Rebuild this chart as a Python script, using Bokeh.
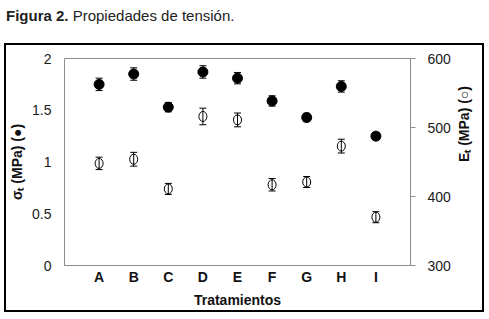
from bokeh.plotting import figure
from bokeh.models import (ColumnDataSource, Range1d, LinearAxis, FactorRange, Whisker,
                          FixedTicker, TeeHead, Div, Column)
from bokeh.embed import file_html
from bokeh.resources import INLINE
import math

treatments = ["A", "B", "C", "D", "E", "F", "G", "H", "I"]
sigma = [1.75, 1.85, 1.53, 1.87, 1.81, 1.59, 1.43, 1.73, 1.25]
sigma_err = [0.06, 0.06, 0.045, 0.06, 0.055, 0.05, 0.04, 0.055, 0.035]
modulus = [448, 454, 411, 516, 511, 417, 421, 473, 370]
modulus_err = [9, 10, 8, 12, 10, 9, 8, 10, 8]
left_ticks = [0, 0.5, 1, 1.5, 2]
right_ticks = [300, 400, 500, 600]

src = ColumnDataSource(dict(
    x=treatments, s=sigma,
    su=[v + e for v, e in zip(sigma, sigma_err)],
    sl=[v - e for v, e in zip(sigma, sigma_err)],
    e=modulus,
    eu=[v + e for v, e in zip(modulus, modulus_err)],
    el=[v - e for v, e in zip(modulus, modulus_err)],
))

FONT = "Liberation Sans"
GRAY = "#8c8c8c"
TXT = "#111111"

# figure placed inside a 2px black box: content starts at page (6, 45)
W, H = 476, 265
OX, OY = 6, 45
FL, FT, FR, FB = 63, 58, 412, 267   # frame edges on the page

p = figure(width=W, height=H,
           x_range=FactorRange(factors=treatments, range_padding=0.5, range_padding_units="absolute"),
           y_range=Range1d(0, 2), output_backend="svg", toolbar_location=None,
           min_border_left=FL - OX, min_border_top=FT - OY,
           min_border_right=W - (FR - OX), min_border_bottom=H - (FB - OY))
p.extra_y_ranges = {"E": Range1d(300, 600)}
p.xgrid.visible = False
p.ygrid.visible = False
p.outline_line_color = GRAY
p.outline_line_width = 1

# left axis
ya = p.yaxis[0]
ya.ticker = FixedTicker(ticks=left_ticks)
ya.major_label_overrides = {0: "0", 0.5: "0.5", 1: "1", 1.5: "1.5", 2: "2"}
ya.major_tick_line_color = None
ya.major_tick_out = 0
ya.major_tick_in = 0
ya.minor_tick_line_color = None
ya.axis_line_color = None
ya.major_label_text_font = FONT
ya.major_label_text_font_size = "14px"
ya.major_label_text_color = "#1a1a1a"
ya.major_label_standoff = 13
ya.axis_label = "σₜ (MPa) (●)"
ya.axis_label_text_font = FONT
ya.axis_label_text_font_size = "14px"
ya.axis_label_text_font_style = "bold"
ya.axis_label_text_color = TXT
ya.axis_label_standoff = 4

# right axis
ra = LinearAxis(y_range_name="E", ticker=FixedTicker(ticks=right_ticks))
ra.major_tick_in = 0
ra.major_tick_out = 5
ra.major_tick_line_color = GRAY
ra.minor_tick_line_color = None
ra.axis_line_color = GRAY
ra.major_label_text_font = FONT
ra.major_label_text_font_size = "14px"
ra.major_label_text_color = "#1a1a1a"
ra.major_label_standoff = 12
ra.axis_label = "Eₜ (MPa) (○)"
ra.axis_label_text_font = FONT
ra.axis_label_text_font_size = "14px"
ra.axis_label_text_font_style = "bold"
ra.axis_label_text_color = TXT
ra.axis_label_standoff = 10
if "axis_label_orientation" in ra.properties():
    ra.axis_label_orientation = math.pi / 2
p.add_layout(ra, "right")

# x axis
xa = p.xaxis[0]
xa.major_tick_line_color = None
xa.major_tick_out = 0
xa.major_tick_in = 0
xa.axis_line_color = GRAY
xa.major_label_text_font = FONT
xa.major_label_text_font_size = "14px"
xa.major_label_text_font_style = "bold"
xa.major_label_text_color = TXT
xa.major_label_standoff = 3
xa.axis_label = "Tratamientos"
xa.axis_label_text_font = FONT
xa.axis_label_text_font_size = "14px"
xa.axis_label_text_font_style = "bold"
xa.axis_label_text_color = TXT
xa.axis_label_standoff = 4

# error bars
p.add_layout(Whisker(base="x", upper="su", lower="sl", source=src, line_color="black", line_width=1,
                     upper_head=TeeHead(size=7, line_color="black"),
                     lower_head=TeeHead(size=7, line_color="black")))
p.add_layout(Whisker(base="x", upper="eu", lower="el", source=src, y_range_name="E",
                     line_color="black", line_width=1,
                     upper_head=TeeHead(size=7, line_color="black"),
                     lower_head=TeeHead(size=7, line_color="black")))

p.scatter(x="x", y="s", source=src, size=10, fill_color="black", line_color="black")
p.ellipse(x="x", y="e", source=src, y_range_name="E", width=8, height=10,
          width_units="screen", height_units="screen",
          fill_color=None, line_color="black", line_width=1)

title = Div(text="<b>Figura 2.</b> Propiedades de tensión.", width=480, height=43, margin=0,
            styles={"font-family": "'Liberation Sans Narrow', 'Liberation Sans', Arial, sans-serif",
                    "font-size": "15px", "color": "#222222",
                    "padding-top": "5px", "padding-left": "6px", "box-sizing": "border-box"})

boxed = Column(children=[p], margin=(0, 0, 0, 4),
               styles={"border": "2px solid black"})

layout = Column(children=[title, boxed], margin=0)

open("out.html", "w").write(file_html(layout, INLINE))
